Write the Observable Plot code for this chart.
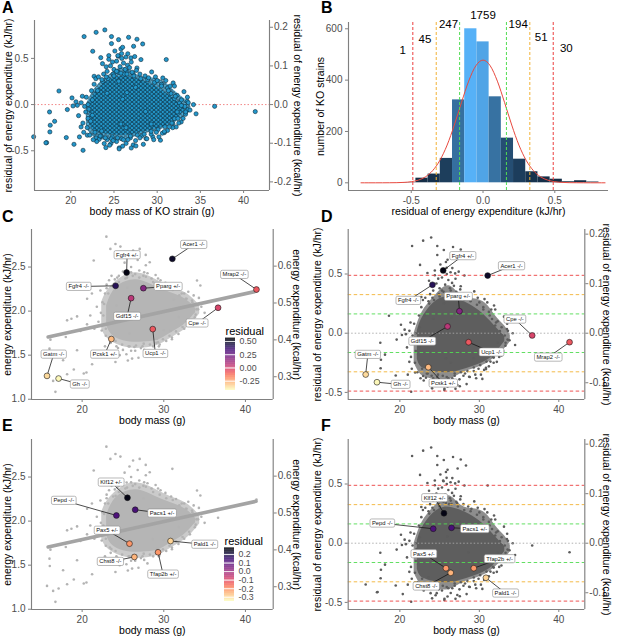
<!DOCTYPE html>
<html><head><meta charset="utf-8">
<script src="https://cdn.jsdelivr.net/npm/d3@7"></script>
<script src="https://cdn.jsdelivr.net/npm/@observablehq/plot@0.6"></script>
<style>
body{margin:0;background:#fff;}
#fig{position:relative;width:617px;height:637px;overflow:hidden;background:#fff;}
.panel{position:absolute;}
.panel svg{overflow:visible;}
</style></head><body><div id="fig"></div>
<script>
// ===================== DATA =====================
const KJ_PER_KCAL = 4.184;

const residCloud = [
[23.94,0.808],[22.93,0.782],[21.54,0.736],[24.71,0.736],[25.53,0.703],[26.69,0.728],[27.66,0.707],[27.27,0.631],[28.32,0.656],[24.71,0.66],
[22.54,0.577],[25.8,0.602],[25.88,0.552],[25.49,0.523],[23.47,0.508],[24.4,0.53],[28.12,0.487],[26.96,0.505],[26.38,0.515],[24.83,0.461],
[23.67,0.443],[26.57,0.425],[27.66,0.396],[29.36,0.353],[22.7,0.306],[31.85,0.234],[30.65,0.288],[18.63,0.147],[20.14,0.072],[21.34,0.09],
[20.76,-0.008],[20.26,-0.015],[19.6,-0.054],[17.54,-0.08],[18.13,-0.181],[17.62,-0.224],[17.58,-0.296],[17.2,-0.412],[19.48,-0.357],[20.37,-0.43],
[21.42,-0.495],[21.19,-0.242],[21.92,-0.332],[22.93,-0.361],[24.06,-0.466],[25.61,-0.469],[27.23,-0.437],[27.54,-0.448],[30.38,-0.386],[30.84,-0.303],
[32.2,-0.242],[32.78,-0.188],[33.55,-0.054],[33.47,0.036],[32.59,0.018],[32.31,-0.08],[32.0,0.065],[33.28,-0.105],[21.73,-0.08],[22.5,-0.116],
[23.28,-0.376],[23.87,-0.422],[24.64,-0.422],[28.71,-0.368],[29.49,-0.35],[32.0,-0.152],[31.81,-0.206],
[24.2,0.36],[24.6,0.42],[25.0,0.38],[25.3,0.47],[25.7,0.41],[26.1,0.45],[26.4,0.36],[26.8,0.40],[27.2,0.34],[27.6,0.37],
[25.9,0.50],[26.6,0.55],[24.9,0.33],[25.5,0.35],[26.2,0.33],[27.0,0.46],[28.0,0.33],[28.6,0.31],[23.8,0.33],[24.4,0.49],
[27.4,0.52],[25.1,0.58],[26.0,0.62],
[30.5,0.22],[31.2,0.18],[31.6,0.12],[32.3,0.10],[32.8,0.05],[33.2,-0.02],[33.8,-0.06],[33.0,-0.15],[32.5,-0.20],[31.8,-0.25],
[31.2,-0.28],[30.6,-0.31],[34.2,0.00],[33.5,0.08],[32.0,0.20],[31.0,0.26],[29.8,0.30],[30.2,-0.35],[29.6,-0.38],[34.5,-0.10],[33.1,0.14],
[23.5,-0.34],[24.2,-0.38],[24.8,-0.35],[25.3,-0.40],[25.9,-0.37],[26.4,-0.42],[26.9,-0.36],[27.5,-0.39],[28.2,-0.34],[28.8,-0.37],
[29.3,-0.32],[26.0,-0.45],[27.0,-0.47],[24.5,-0.44],[28.4,-0.43],[23.0,-0.40],[25.6,-0.48],
[21.6,-0.02],[21.8,0.08],[22.0,-0.15],[21.9,-0.25],[22.4,0.15],[22.7,0.22],[21.5,-0.30],[22.2,-0.33],[22.6,-0.38],[21.2,0.02],
[20.9,-0.12],[22.9,0.28],[23.2,0.30],[21.4,-0.20],[20.6,0.03],[21.0,-0.35],
[22.1,-0.05],[22.3,-0.18],[22.5,0.05],[22.8,-0.30],[23.1,0.15],[23.4,-0.34],[23.7,0.25],[24.0,-0.36],[24.3,0.28],[24.7,-0.37],
[25.0,0.31],[25.4,-0.36],[25.8,0.34],[26.1,-0.38],[26.5,0.33],[26.9,-0.34],[27.3,0.31],[27.7,-0.33],[28.1,0.28],[28.5,-0.32],
[28.9,0.27],[29.3,-0.29],[29.7,0.24],[30.1,-0.27],[30.5,0.20],[30.9,-0.24],[31.3,0.15],[31.7,-0.20],[32.1,0.09],[32.4,-0.15],
[32.8,-0.01],[33.3,-0.08],[33.6,0.02],[22.0,0.00],[23.6,0.27],[24.1,0.30],[25.3,0.36],[26.3,0.38],[27.1,0.35],[29.0,0.29],
[30.0,0.26],[31.5,0.20],[24.9,-0.39],[26.6,-0.38],[28.0,-0.36],[29.9,-0.30],[31.4,-0.24]
];
// dense core of the residual cloud: body mass, lower and upper residual
const residCore  = [[22.2,-0.22,0.02],[22.6,-0.28,0.10],[23.5,-0.31,0.20],[25.0,-0.33,0.29],[26.6,-0.33,0.30],[28.3,-0.30,0.26],[30.0,-0.26,0.19],[31.4,-0.21,0.10],[32.5,-0.13,0.02],[33.2,-0.07,-0.03]];
const residHalo  = [[21.8,-0.25,0.0],[22.3,-0.32,0.10],[23.1,-0.37,0.21],[24.6,-0.39,0.33],[26.2,-0.39,0.40],[27.7,-0.34,0.32],[29.3,-0.30,0.29],[30.8,-0.26,0.25],[32.0,-0.20,0.15],[33.2,-0.13,0.06],[33.9,-0.07,-0.02]];

const energyCloud = [
[21.42,2.574],[23.46,2.706],[24.08,2.762],[24.69,2.732],[26.24,2.687],[27.05,2.706],[27.79,2.638],[28.28,2.555],[22.97,2.845],[34.07,2.347],
[34.48,2.29],[33.66,2.178],[33.46,2.121],[32.64,2.046],[31.22,2.128],[22.24,2.234],[20.61,2.14],[19.38,1.94],[18.16,1.895],[18.0,1.706],
[16.12,1.676],[16.0,1.574],[18.16,1.284],[18.98,1.337],[16.73,1.084],[20.2,1.292],[21.22,1.397],[24.08,1.423],[25.42,1.51],[26.12,1.461],
[27.54,1.631],[29.18,1.687],[29.99,1.782],[31.83,1.932],
[16.04,1.491],[16.45,1.208],[17.67,1.442],[18.69,1.914],[19.79,1.774],[20.53,1.303],[19.38,1.555],
[24.5,2.40],[25.0,2.45],[25.5,2.38],[26.0,2.50],[26.5,2.42],[27.0,2.46],[27.5,2.40],[28.0,2.43],[28.5,2.37],[29.0,2.41],
[25.2,2.55],[26.8,2.58],[24.0,2.36],[29.6,2.35],[30.2,2.32],[27.8,2.52],[23.6,2.40],[25.8,2.62],
[31.5,2.25],[32.2,2.20],[32.8,2.14],[33.5,2.10],[34.0,2.02],[33.8,1.93],[33.2,1.85],[32.5,1.80],[31.8,1.74],[34.6,2.05],
[35.0,1.98],[33.0,2.22],[34.3,2.15],[31.0,1.70],
[23.5,1.64],[24.2,1.60],[25.0,1.56],[25.8,1.60],[26.5,1.55],[27.2,1.58],[28.0,1.52],[28.7,1.60],[29.5,1.62],[30.3,1.66],
[24.6,1.50],[26.9,1.47],[25.6,1.44],[22.8,1.60],[23.0,1.52],
[22.8,2.20],[22.5,2.10],[22.3,1.98],[22.0,1.88],[22.4,1.78],[21.8,2.05],[21.5,1.80],[21.0,1.95],[22.9,1.72],[23.0,2.30],
[20.6,1.85],[21.2,2.20],[23.3,2.35],
[22.6,1.95],[22.7,2.08],[22.9,1.80],[23.2,2.20],[23.4,1.70],[23.8,2.28],[24.1,1.66],[24.5,2.33],[24.9,1.62],[25.3,2.37],
[25.7,1.60],[26.2,2.40],[26.6,1.61],[27.0,2.38],[27.4,1.60],[27.8,2.39],[28.3,1.62],[28.7,2.33],[29.1,1.64],[29.5,2.30],
[29.9,1.68],[30.3,2.26],[30.7,1.72],[31.1,2.24],[31.5,1.77],[31.9,2.18],[32.3,1.82],[32.7,2.14],[33.1,1.88],[33.5,2.05],
[33.9,1.96],[34.2,2.02],[23.0,2.26],[24.3,2.38],[26.0,2.44],[27.6,2.44],[29.3,2.37],[30.9,2.28],[32.5,2.20],[24.4,1.58],
[26.0,1.55],[27.6,1.56],[29.4,1.60],[31.0,1.68]
];
const energyCore = [[23.0,1.84,2.06],[23.4,1.76,2.16],[24.3,1.69,2.28],[25.9,1.65,2.35],[27.5,1.65,2.34],[29.2,1.67,2.27],[30.8,1.75,2.21],[32.4,1.84,2.15],[33.4,1.93,2.08],[33.9,1.98,2.03]];
const energyHalo = [[22.4,1.80,2.10],[23.0,1.70,2.22],[24.3,1.62,2.35],[25.9,1.58,2.43],[27.5,1.58,2.42],[29.2,1.61,2.35],[30.8,1.69,2.28],[32.4,1.78,2.22],[33.6,1.88,2.14],[34.4,1.97,2.06]];

// Linear fit of energy expenditure on body mass (panels C, E)
const fitMass = [15.84, 41.3];
const fitEnergy = [1.706, 2.225];

// Highlighted strains, panels C & D
const genesC = ["Acer1 -/-","Fgfr4 +/-","Fgfr4 -/-","Pparg +/-","Mrap2 -/-","Gdf15 -/-","Cpe -/-","Ucp1 -/-","Pcsk1 +/-","Gatm -/-","Gh -/-"];
const genesCMass   = [31.05,25.45,24.1,27.5,41.35,26.0,36.65,28.65,23.58,15.7,17.12];
const genesCEnergy = [2.593,2.438,2.287,2.26,2.245,2.147,2.038,1.796,1.683,1.265,1.235];
const genesCResid  = [0.487,0.53,0.409,0.186,-0.076,0.057,-0.019,-0.076,-0.287,-0.349,-0.414];
const labelCMass   = [33.66,25.51,19.58,30.53,38.64,25.51,34.08,28.97,22.77,16.52,19.71];
const labelCEnergy = [2.755,2.638,2.279,2.279,2.415,1.94,1.864,1.518,1.51,1.51,1.171];
const labelDMass   = [34.05,27.92,21.06,27.35,38.67,22.82,34.47,31.53,25.46,15.97,20.09];
const labelDResid  = [0.569,0.654,0.276,0.31,-0.203,-0.068,0.118,-0.16,-0.422,-0.18,-0.433];

// Highlighted strains, panels E & F
const genesE = ["Klf12 +/-","Pepd -/-","Pacs1 +/-","Pax5 +/-","Pald1 -/-","Chst8 -/-","Tfap2b +/-"];
const genesEMass   = [25.55,24.2,26.5,25.8,30.83,26.4,29.3];
const genesEEnergy = [2.265,2.064,2.129,1.744,1.774,1.593,1.646];
const genesEResid  = [0.253,0.122,0.13,-0.211,-0.292,-0.25,-0.211];
const labelEMass   = [23.55,17.75,29.79,23.06,35.01,23.46,29.91];
const labelEEnergy = [2.441,2.234,2.09,1.895,1.736,1.541,1.397];
const labelFMass   = [24.36,17.79,29.43,23.02,33.3,23.32,32.54];
const labelFResid  = [0.383,0.169,0.122,-0.09,-0.422,-0.363,-0.132];

// Panel B histogram
const binCenters = [-0.51,-0.425,-0.34,-0.255,-0.17,-0.085,0,0.085,0.17,0.255,0.34,0.425,0.51,0.595,0.68,0.765];
const binCounts  = [1,18,34,95,323,600,549,335,174,92,43,23,14,4,8,3];
const binWidth = 0.085;
const normalX = [-0.85,-0.8,-0.75,-0.7,-0.65,-0.6,-0.55,-0.5,-0.45,-0.4,-0.35,-0.3,-0.25,-0.2,-0.15,-0.1,-0.05,0,0.05,0.1,0.15,0.2,0.25,0.3,0.35,0.4,0.45,0.5,0.55,0.6,0.65,0.7,0.75,0.8,0.85];
const normalY = [0,0,0,0.05,0.2,0.5,1.6,4.3,10.6,23.5,48,88,147,225,313,396,456,478,456,396,313,225,147,88,48,23.5,10.6,4.3,1.6,0.5,0.2,0.05,0,0,0];
const sdThresholds = [0.163, 0.326, 0.489];
const sdColors = ["#52dc52", "#f2b236", "#ec3f3f"];
const countText = ["1","45","247","1759","194","51","30"];
const countX = [-0.56,-0.405,-0.24,0,0.245,0.405,0.58];
const countY = [515,558,617,652,617,566,523];

// Axis ticks
const massTicksA = [20,25,30,35,40];
const massTicks = [20,30,40];
const residTicks = [-0.5,0,0.5];
const residKcalTicksA = [-0.2,-0.1,0,0.1,0.2];
const residKcalTicksD = [-0.1,0,0.1,0.2];
const energyTicks = [1.0,1.5,2.0,2.5];
const energyKcalTicks = [0.3,0.4,0.5,0.6];
const histXTicks = [-0.5,0,0.5];
const histYTicks = [0,200,400,600];
const legendTicksC = [0.5,0.25,0,-0.25];
const legendTicksE = [0.2,0.1,0,-0.1,-0.2,-0.3];
const colorDomainC = [-0.426, 0.562];
const colorDomainE = [-0.35, 0.276];

// ===================== HELPERS =====================
const FONT = '"Liberation Sans", Arial, Helvetica, sans-serif';
const AXIS = "#808080";
const fig = document.getElementById("fig");
const pts = a => a.map(([m, v]) => ({m, v}));
const env = a => a.map(([m, lo, hi]) => ({m, lo, hi}));
const f1 = d => d.toFixed(1);

function place(node, left, top) {
  const d = document.createElement("div");
  d.className = "panel"; d.style.left = left + "px"; d.style.top = top + "px";
  d.appendChild(node); fig.appendChild(d); return node;
}
function frameRules(xd, yd, right) {
  const s = {stroke: AXIS, strokeWidth: 1.15};
  const m = [Plot.ruleY([yd[0]], s), Plot.ruleX([xd[0]], s)];
  if (right) m.push(Plot.ruleX([xd[1]], s));
  return m;
}
function axes(xt, xf, yt, yf, rt, rf) {
  const c = {tickSize: 3, tickPadding: 3, stroke: AXIS, fill: "#4d4d4d", fontSize: 10, label: null};
  const m = [Plot.axisX(xt, {...c, anchor: "bottom", tickFormat: xf}),
             Plot.axisY(yt, {...c, anchor: "left", tickFormat: yf})];
  if (rt) m.push(Plot.axisY(rt.map(k => k * KJ_PER_KCAL), {...c, tickPadding: 1.5, anchor: "right", tickFormat: d => (d / KJ_PER_KCAL).toFixed(1)}));
  return m;
}
function titles(xt, yl, dxl, yr, dxr) {
  const s = {fontSize: 10.5, fill: "#000", text: d => d, textAnchor: "middle", lineAnchor: "middle"};
  const m = [Plot.text([xt], {...s, frameAnchor: "bottom", dy: 21.5}),
             Plot.text([yl], {...s, frameAnchor: "left", dx: dxl, rotate: -90})];
  if (yr) m.push(Plot.text([yr], {...s, frameAnchor: "right", dx: dxr, rotate: 90}));
  return m;
}
function geneMarks(names, mass, val, res, lm, lv) {
  const t = names.map((g, i) => ({g, m: mass[i], v: val[i], r: res[i], lm: lm[i], lv: lv[i]}));
  return [
    Plot.link(t, {x1: "lm", y1: "lv", x2: "m", y2: "v", stroke: "#111", strokeWidth: 0.75}),
    Plot.dot(t, {x: "m", y: "v", r: 2.9, fill: "r", stroke: "#1a1a1a", strokeWidth: 0.6}),
    Plot.text(t, {x: "lm", y: "lv", text: "g", fontSize: 5.8, fill: "#111"})
  ];
}
function basePlot(o) {
  return Plot.plot({
    width: o.w, height: o.h, marginLeft: o.ml, marginRight: o.mr, marginTop: o.mt, marginBottom: o.mb,
    x: {domain: o.xd, label: null}, y: {domain: o.yd, label: null},
    color: o.color,
    style: {fontFamily: FONT, fontSize: "10px", background: "transparent", overflow: "visible", color: "#4d4d4d"},
    marks: o.marks
  });
}
function boxLabels(svg) {
  svg.querySelectorAll("text").forEach(t => {
    if (!/\/-$/.test(t.textContent)) return;
    const b = t.getBBox();
    const r = document.createElementNS("http://www.w3.org/2000/svg", "rect");
    r.setAttribute("x", b.x - 2); r.setAttribute("y", b.y - 1.1);
    r.setAttribute("width", b.width + 4); r.setAttribute("height", b.height + 2.2);
    r.setAttribute("rx", 1.6); r.setAttribute("fill", "#fff");
    r.setAttribute("stroke", "#8a8a8a"); r.setAttribute("stroke-width", "0.6");
    const tr = t.getAttribute("transform"); if (tr) r.setAttribute("transform", tr);
    t.parentNode.insertBefore(r, t);
  });
}
function legendPlot(domain, ticks, fmt, h, mt) {
  const n = 80, step = (domain[1] - domain[0]) / n;
  const steps = d3.range(n).map(i => domain[0] + i * step);
  return Plot.plot({
    width: 60, height: h, marginLeft: 5, marginRight: 45, marginTop: mt, marginBottom: 5,
    x: {domain: [0, 1], axis: null}, y: {domain, axis: null},
    color: {type: "linear", scheme: "magma", reverse: true, domain},
    style: {fontFamily: FONT, background: "transparent", overflow: "visible", color: "#4d4d4d"},
    marks: [
      Plot.rect(steps, {x1: 0, x2: 1, y1: d => d, y2: d => d + step * 1.1, fill: d => d + step / 2}),
      Plot.tickY(ticks, {y: d => d, x1: 0, x2: 0.22, stroke: "#fff", strokeWidth: 0.6}),
      Plot.tickY(ticks, {y: d => d, x1: 0.78, x2: 1, stroke: "#fff", strokeWidth: 0.6}),
      Plot.axisY(ticks, {anchor: "right", tickSize: 0, tickPadding: 4, tickFormat: fmt, fontSize: 8.8, fill: "#4d4d4d", label: null}),
      Plot.text(["residual"], {frameAnchor: "top-left", dy: -11, textAnchor: "start", fontSize: 11, fill: "#000", text: d => d})
    ]
  });
}

const residPts = pts(residCloud)
  .concat(genesCMass.map((m, i) => ({m, v: genesCResid[i]})))
  .concat(genesEMass.map((m, i) => ({m, v: genesEResid[i]})));
const energyPts = pts(energyCloud)
  .concat(genesCMass.map((m, i) => ({m, v: genesCEnergy[i]})))
  .concat(genesEMass.map((m, i) => ({m, v: genesEEnergy[i]})));
const fitLine = fitMass.map((m, i) => ({m, v: fitEnergy[i]}));

// ===================== PANEL A =====================
{
  const xd = [15.8, 43.0], yd = [-0.93, 0.91];
  const patDefs = () => {
    const s = d3.create("svg:defs");
    const p = s.append("pattern").attr("id", "patA").attr("patternUnits", "userSpaceOnUse").attr("width", 4.4).attr("height", 4.0);
    p.append("rect").attr("width", 4.4).attr("height", 4.0).attr("fill", "#1a668c");
    for (const [cx, cy] of [[0,0],[4.4,0],[2.2,2.0],[0,4.0],[4.4,4.0]])
      p.append("circle").attr("cx", cx).attr("cy", cy).attr("r", 1.6).attr("fill", "#239bd0").attr("stroke", "#0d2f40").attr("stroke-width", 0.5);
    return s.node();
  };
  place(basePlot({w: 305, h: 212, ml: 34, mr: 36, mt: 20, mb: 22, xd, yd, marks: [
    patDefs,
    Plot.ruleY([0], {stroke: "#f07a7a", strokeDasharray: "1.5,2", strokeWidth: 0.9}),
    Plot.areaY(env(residHalo), {x: "m", y1: "lo", y2: "hi", curve: "natural", fill: "url(#patA)", fillOpacity: 0.8}),
    Plot.areaY(env(residCore), {x: "m", y1: "lo", y2: "hi", curve: "natural", fill: "url(#patA)"}),
    Plot.dot(residPts, {x: "m", y: "v", r: 2.1, fill: "#2396ca", stroke: "#0e2e3e", strokeWidth: 0.6}),
    ...frameRules(xd, yd, true),
    ...axes(massTicksA, d => String(d), residTicks, f1, residKcalTicksA),
    ...titles("body mass of KO strain (g)", "residual of energy expenditure (kJ/hr)", -26, "residual of energy expenditure (kcal/hr)", 28)
  ]}), 0, 0);
}

// ===================== PANEL B =====================
{
  const xd = [-0.937, 0.874], yd = [-30, 624.5];
  const bins = binCenters.map((c, i) => ({c, n: binCounts[i]}));
  const normal = normalX.map((x, i) => ({x, y: normalY[i]}));
  const counts = countText.map((t, i) => ({t, x: countX[i], y: countY[i]}));
  place(basePlot({w: 312, h: 212, ml: 43, mr: 9, mt: 22, mb: 22, xd, yd,
    color: {type: "linear", domain: [1, 600], range: ["#132B43", "#56B1F7"], interpolate: d3.interpolateLab},
    marks: [
      Plot.rect(bins, {x1: d => d.c - binWidth / 2, x2: d => d.c + binWidth / 2, y1: 0, y2: "n", fill: "n"}),
      Plot.line(normal, {x: "x", y: "y", stroke: "#e8493f", strokeWidth: 1, curve: "monotone-x"}),
      ...sdThresholds.map((t, i) => Plot.ruleX([-t, t], {stroke: sdColors[i], strokeDasharray: "3,2", strokeWidth: 1})),
      Plot.text(counts, {x: "x", y: "y", text: "t", fontSize: 11.5, fill: "#000"}),
      ...frameRules(xd, yd, false),
      ...axes(histXTicks, f1, histYTicks, d => String(d)),
      ...titles("residual of energy expenditure (kJ/hr)", "number of KO strains", -28)
    ]}), 305, 0);
}

// ===================== PANELS C & E =====================
function energyPanel(top, h, mb, genes, gm, gv, gr, lm, lv, cdom) {
  const xd = [13.8, 43.4], yd = [0.997, 2.926];
  const svg = place(basePlot({w: 305, h, ml: 31, mr: 32.3, mt: 19, mb, xd, yd,
    color: {type: "linear", scheme: "magma", reverse: true, domain: cdom},
    marks: [
      Plot.areaY(env(energyHalo), {x: "m", y1: "lo", y2: "hi", curve: "natural", fill: "#b5b5b5", fillOpacity: 0.7}),
      Plot.areaY(env(energyCore), {x: "m", y1: "lo", y2: "hi", curve: "natural", fill: "#b5b5b5"}),
      Plot.dot(energyPts, {x: "m", y: "v", r: 1.3, fill: "#b3b3b3"}),
      Plot.line(fitLine, {x: "m", y: "v", stroke: "#a4a4a4", strokeWidth: 3.6}),
      ...geneMarks(genes, gm, gv, gr, lm, lv),
      ...frameRules(xd, yd, true),
      ...axes(massTicks, d => String(d), energyTicks, f1, energyKcalTicks),
      ...titles("body mass (g)", "energy expenditure (kJ/hr)", -23.5, "energy expenditure (kcal/hr)", 23)
    ]}), 0, top);
  boxLabels(svg);
}
energyPanel(210, 210, 21, genesC, genesCMass, genesCEnergy, genesCResid, labelCMass, labelCEnergy, colorDomainC);
energyPanel(420, 217, 28, genesE, genesEMass, genesEEnergy, genesEResid, labelEMass, labelEEnergy, colorDomainE);
place(legendPlot(colorDomainC, legendTicksC, d => d.toFixed(2), 75, 17.7), 220, 320);
place(legendPlot(colorDomainE, legendTicksE, f1, 76, 17.5), 219, 530);

// ===================== PANELS D & F =====================
function residPanel(top, h, mb, genes, gm, gr, lm, lv, cdom) {
  const xd = [13.5, 43.27], yd = [-0.56, 0.876];
  const svg = place(basePlot({w: 312, h, ml: 42.7, mr: 32.7, mt: 19, mb, xd, yd,
    color: {type: "linear", scheme: "magma", reverse: true, domain: cdom},
    marks: [
      Plot.areaY(env(residHalo), {x: "m", y1: "lo", y2: "hi", curve: "natural", fill: "#5e5e5e", fillOpacity: 0.7}),
      Plot.areaY(env(residCore), {x: "m", y1: "lo", y2: "hi", curve: "natural", fill: "#5e5e5e"}),
      Plot.dot(residPts, {x: "m", y: "v", r: 1.3, fill: "#5c5c5c"}),
      Plot.ruleY([0], {stroke: "#a8a8a8", strokeDasharray: "1.5,2", strokeWidth: 0.9}),
      ...sdThresholds.map((t, i) => Plot.ruleY([-t, t], {stroke: sdColors[i], strokeDasharray: "3.5,2.5", strokeWidth: 1, strokeOpacity: 0.9})),
      ...geneMarks(genes, gm, gr, gr, lm, lv),
      ...frameRules(xd, yd, true),
      ...axes(massTicks, d => String(d), residTicks, f1, residKcalTicksD),
      ...titles("body mass (g)", "residual of energy expenditure (kJ/hr)", -30.7, "residual of energy expenditure (kcal/hr)", 21.5)
    ]}), 305, top);
  boxLabels(svg);
}
residPanel(210, 210, 21, genesC, genesCMass, genesCResid, labelDMass, labelDResid, colorDomainC);
residPanel(420, 217, 28, genesE, genesEMass, genesEResid, labelFMass, labelFResid, colorDomainE);

// ===================== PANEL LETTERS =====================
{
  const ns = "http://www.w3.org/2000/svg";
  const s = document.createElementNS(ns, "svg");
  s.setAttribute("width", 617); s.setAttribute("height", 637);
  s.style.position = "absolute"; s.style.left = "0"; s.style.top = "0"; s.style.pointerEvents = "none";
  for (const [t, x, y] of [["A",2,13],["B",321,13],["C",2,222],["D",321,222],["E",2,431],["F",321,431]]) {
    const e = document.createElementNS(ns, "text");
    e.setAttribute("x", x); e.setAttribute("y", y);
    e.setAttribute("font-family", FONT); e.setAttribute("font-size", 16); e.setAttribute("font-weight", "bold");
    e.textContent = t; s.appendChild(e);
  }
  fig.appendChild(s);
}
</script></body></html>
